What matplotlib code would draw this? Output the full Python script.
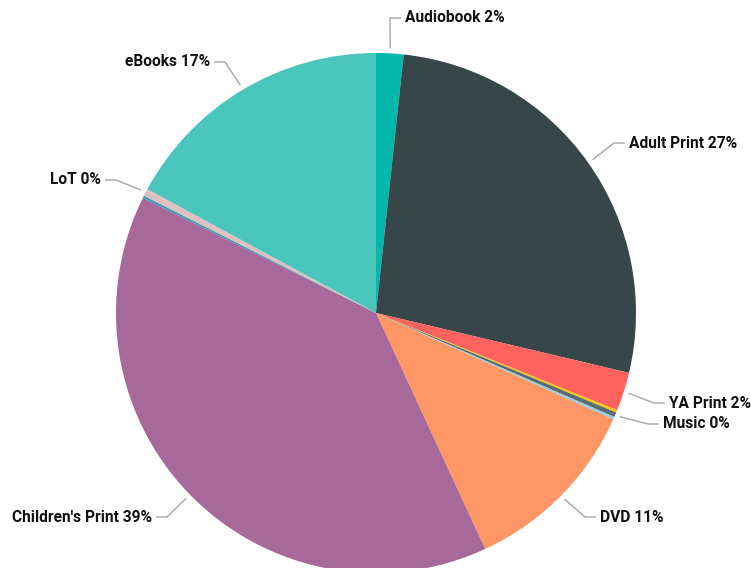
import numpy as np
import matplotlib.pyplot as plt

# share of circulation by collection (percent), clockwise from 12 o'clock
categories = ['Audiobook', 'Adult Print', 'YA Print', 'Periodicals', 'Music',
              'Equipment', 'DVD', "Children's Print", 'Games', 'LoT', 'eBooks']
shares = [1.7, 27.0, 2.4, 0.15, 0.3, 0.15, 11.4, 39.2, 0.15, 0.45, 17.1]
shown_labels = ['Audiobook 2%', 'Adult Print 27%', 'YA Print 2%', None, 'Music 0%',
                None, 'DVD 11%', "Children's Print 39%", None, 'LoT 0%', 'eBooks 17%']

colors = ['#01B8AA', '#374649', '#FD625E', '#F2C80F', '#5F6B6D',
          '#8AD4EB', '#FE9666', '#A66999', '#3599B8', '#DFBFBF', '#4AC5BB']

W, H = 751, 568
CX, CY, R = 376, 313, 260

# leader elbow (px, y down) and which side the text sits on
label_layout = {
    'Audiobook 2%': ((390, 18), 'right'),
    'Adult Print 27%': ((614, 143), 'right'),
    'YA Print 2%': ((654, 403), 'right'),
    'Music 0%': ((648, 424), 'right'),
    'DVD 11%': ((585, 517), 'right'),
    "Children's Print 39%": ((167, 517), 'left'),
    'LoT 0%': ((116, 180), 'left'),
    'eBooks 17%': ((225, 62), 'left'),
}

fig = plt.figure(figsize=(W / 100, H / 100), dpi=100)
ax = fig.add_axes([0, 0, 1, 1])

ax.pie(shares, colors=colors, startangle=90, counterclock=False,
       center=(CX, H - CY), radius=R, frame=True,
       wedgeprops=dict(linewidth=0, antialiased=True))
ax.set_xlim(0, W)
ax.set_ylim(0, H)
ax.axis('off')

cum = np.cumsum([0] + shares[:-1])
for start, share, lab in zip(cum, shares, shown_labels):
    if lab is None:
        continue
    mid = np.deg2rad((start + share / 2) / 100 * 360)
    x0 = CX + (R + 5) * np.sin(mid)
    y0 = CY - (R + 5) * np.cos(mid)
    (ex, ey), side = label_layout[lab]
    step = 11 if side == 'right' else -11
    xs = [x0, ex, ex + step]
    ys = [H - y0, H - ey, H - ey]
    ax.plot(xs, ys, color='#A6A6A6', lw=1, solid_capstyle='butt')
    tx = ex + step + (4 if side == 'right' else -4)
    ax.text(tx, H - ey, lab, ha='left' if side == 'right' else 'right',
            va='center', fontsize=11.2, fontweight='bold', family='Roboto',
            color='#111111')

fig.savefig('out.png', dpi=100)
